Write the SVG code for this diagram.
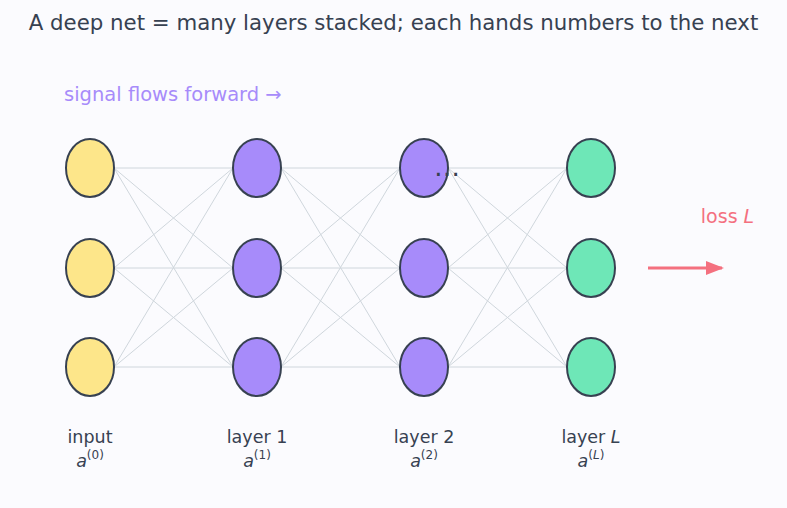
<svg xmlns="http://www.w3.org/2000/svg" width="787" height="508" viewBox="0 0 787 508">
<defs>
<style>
text{font-family:"DejaVu Sans","Liberation Sans",sans-serif;fill:#374151}
.n{stroke:#374151;stroke-width:2}
.in{fill:#fde68a}.hid{fill:#a78bfa}.out{fill:#6ee7b7}
.e line{stroke:#cfd6dc;stroke-width:1}
.lbl{font-size:17.5px;text-anchor:middle}
.sup{font-size:12px}
</style>
<marker id="ah2" markerWidth="18" markerHeight="14" refX="16" refY="7" orient="auto" markerUnits="userSpaceOnUse">
<path d="M0,0 L18,7 L0,14 Z" fill="#f4707f"/>
</marker>
</defs>
<rect width="787" height="508" fill="#fbfbfe"/>
<text x="393.5" y="30" font-size="21.3" text-anchor="middle">A deep net = many layers stacked; each hands numbers to the next</text>
<text x="64" y="101" font-size="19.5" style="fill:#a78bfa">signal flows forward →</text>
<g id="connectors" class="e">
<line x1="114" y1="168" x2="233" y2="168"/><line x1="114" y1="168" x2="233" y2="268"/><line x1="114" y1="168" x2="233" y2="367"/>
<line x1="114" y1="268" x2="233" y2="168"/><line x1="114" y1="268" x2="233" y2="268"/><line x1="114" y1="268" x2="233" y2="367"/>
<line x1="114" y1="367" x2="233" y2="168"/><line x1="114" y1="367" x2="233" y2="268"/><line x1="114" y1="367" x2="233" y2="367"/>
<line x1="281" y1="168" x2="400" y2="168"/><line x1="281" y1="168" x2="400" y2="268"/><line x1="281" y1="168" x2="400" y2="367"/>
<line x1="281" y1="268" x2="400" y2="168"/><line x1="281" y1="268" x2="400" y2="268"/><line x1="281" y1="268" x2="400" y2="367"/>
<line x1="281" y1="367" x2="400" y2="168"/><line x1="281" y1="367" x2="400" y2="268"/><line x1="281" y1="367" x2="400" y2="367"/>
<line x1="448" y1="168" x2="567" y2="168"/><line x1="448" y1="168" x2="567" y2="268"/><line x1="448" y1="168" x2="567" y2="367"/>
<line x1="448" y1="268" x2="567" y2="168"/><line x1="448" y1="268" x2="567" y2="268"/><line x1="448" y1="268" x2="567" y2="367"/>
<line x1="448" y1="367" x2="567" y2="168"/><line x1="448" y1="367" x2="567" y2="268"/><line x1="448" y1="367" x2="567" y2="367"/>
<line x1="648" y1="268" x2="722" y2="268" style="stroke:#f4707f;stroke-width:3" marker-end="url(#ah2)"/>
</g>
<g id="input0"><ellipse class="n in" cx="90" cy="168" rx="24" ry="29"/></g>
<g id="input1"><ellipse class="n in" cx="90" cy="268" rx="24" ry="29"/></g>
<g id="input2"><ellipse class="n in" cx="90" cy="367" rx="24" ry="29"/></g>
<g id="l1n0"><ellipse class="n hid" cx="257" cy="168" rx="24" ry="29"/></g>
<g id="l1n1"><ellipse class="n hid" cx="257" cy="268" rx="24" ry="29"/></g>
<g id="l1n2"><ellipse class="n hid" cx="257" cy="367" rx="24" ry="29"/></g>
<g id="l2n0"><ellipse class="n hid" cx="424" cy="168" rx="24" ry="29"/></g>
<g id="l2n1"><ellipse class="n hid" cx="424" cy="268" rx="24" ry="29"/></g>
<g id="l2n2"><ellipse class="n hid" cx="424" cy="367" rx="24" ry="29"/></g>
<g id="lLn0"><ellipse class="n out" cx="591" cy="168" rx="24" ry="29"/></g>
<g id="lLn1"><ellipse class="n out" cx="591" cy="268" rx="24" ry="29"/></g>
<g id="lLn2"><ellipse class="n out" cx="591" cy="367" rx="24" ry="29"/></g>
<text x="447" y="176" font-size="26" text-anchor="middle">…</text>
<text x="727.5" y="223" font-size="19" text-anchor="middle" style="fill:#f4707f">loss <tspan font-style="italic">L</tspan></text>
<g id="labels">
<text class="lbl" x="90" y="443">input</text>
<text class="lbl" x="90" y="467"><tspan font-style="italic">a</tspan><tspan class="sup" dy="-8">(0)</tspan></text>
<text class="lbl" x="257" y="443">layer 1</text>
<text class="lbl" x="257" y="467"><tspan font-style="italic">a</tspan><tspan class="sup" dy="-8">(1)</tspan></text>
<text class="lbl" x="424" y="443">layer 2</text>
<text class="lbl" x="424" y="467"><tspan font-style="italic">a</tspan><tspan class="sup" dy="-8">(2)</tspan></text>
<text class="lbl" x="591" y="443">layer <tspan font-style="italic">L</tspan></text>
<text class="lbl" x="591" y="467"><tspan font-style="italic">a</tspan><tspan class="sup" dy="-8">(<tspan font-style="italic">L</tspan>)</tspan></text>
</g>
</svg>
